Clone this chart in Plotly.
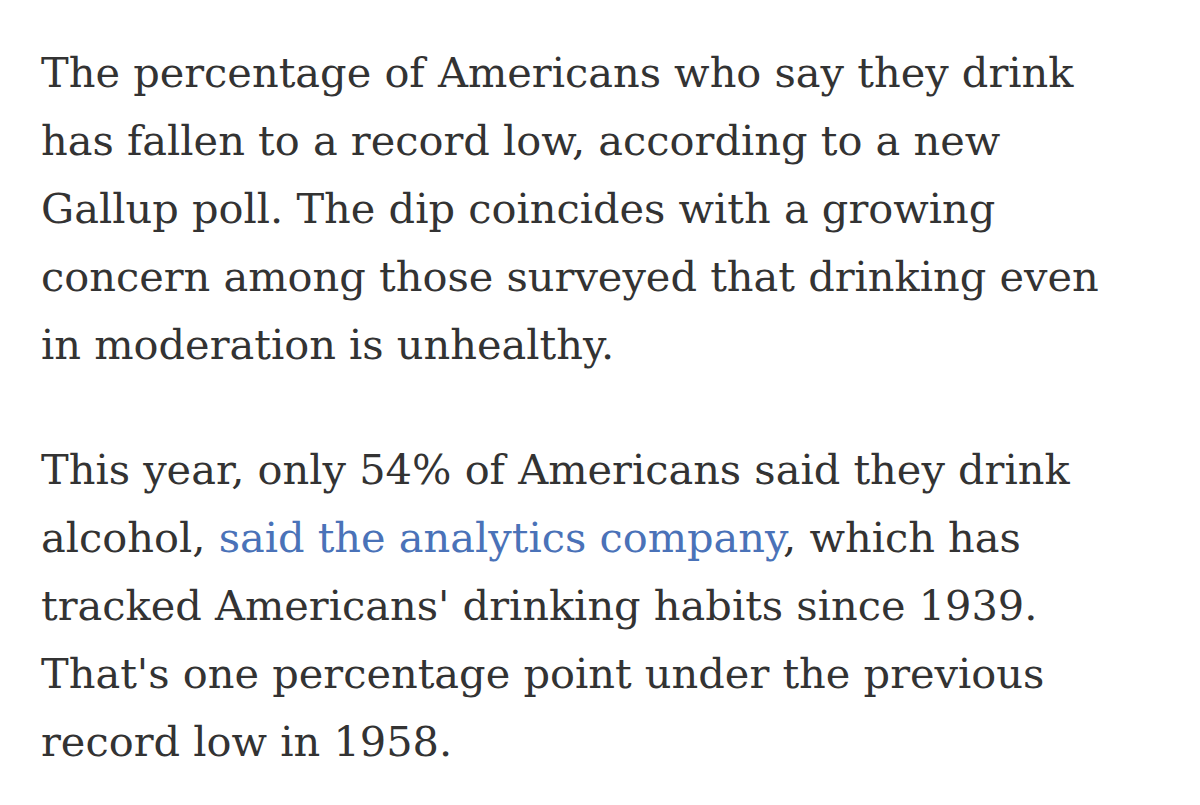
import plotly.graph_objects as go

LINK = "#4a72b8"
TEXT = "#333333"

paragraph_1 = [
    "The percentage of Americans who say they drink",
    "has fallen to a record low, according to a new",
    "Gallup poll. The dip coincides with a growing",
    "concern among those surveyed that drinking even",
    "in moderation is unhealthy.",
]
paragraph_2 = [
    "This year, only 54% of Americans said they drink",
    f"alcohol, <span style='color:{LINK}'>said the analytics company</span>, which has",
    "tracked Americans' drinking habits since 1939.",
    "That's one percentage point under the previous",
    "record low in 1958.",
]

line_gap = 68
p1_top = 64
p2_top = 461

fig = go.Figure()
for start, lines in ((p1_top, paragraph_1), (p2_top, paragraph_2)):
    for i, line in enumerate(lines):
        fig.add_annotation(
            x=31, y=start + i * line_gap, xref="x", yref="y",
            text=line, showarrow=False, xanchor="left", yanchor="middle",
            font=dict(family="DejaVu Serif", size=41.5, color=TEXT),
        )

fig.update_xaxes(visible=False, range=[0, 1200])
fig.update_yaxes(visible=False, range=[805, 0])
fig.update_layout(
    width=1200, height=805, margin=dict(l=0, r=0, t=0, b=0),
    plot_bgcolor="white", paper_bgcolor="white",
)
fig.write_html("out.html")
